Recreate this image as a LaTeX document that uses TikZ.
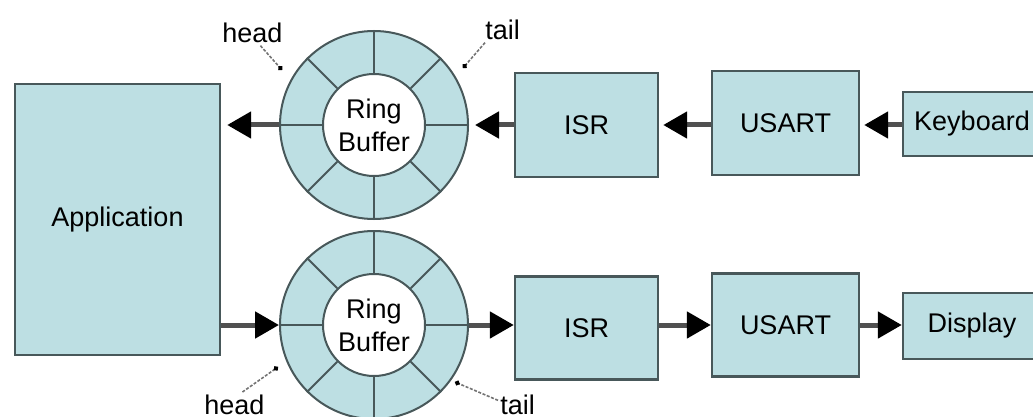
\documentclass[tikz,border=0pt]{standalone}
\usepackage{fontspec}
\setmainfont{Liberation Sans}
\usetikzlibrary{arrows.meta}
\definecolor{boxfill}{RGB}{189,223,227}
\definecolor{boxedge}{RGB}{72,88,90}
\definecolor{shaft}{RGB}{80,80,80}
\begin{document}
\begin{tikzpicture}[x=0.5pt,y=-0.5pt,font=\fontsize{13.5}{16.5}\selectfont,
  blk/.style={draw=boxedge,fill=boxfill,line width=1.2pt,inner sep=0pt},
  ringout/.style={circle,draw=boxedge,fill=boxfill,line width=1pt,minimum size=94pt,inner sep=0pt},
  ringin/.style={circle,draw=boxedge,fill=white,line width=1pt,minimum size=51pt,inner sep=0pt,align=center},
  spoke/.style={draw=boxedge,line width=1pt},
  flow/.style={-{Triangle[length=12pt,width=13pt,color=black]},draw=shaft,line width=2.5pt},
  lead/.style={-{Circle[length=2.5pt,color=black]},draw=black!55,line width=0.8pt,dash pattern=on 1.5pt off 0.8pt},
  lbl/.style={inner sep=1pt,anchor=base west}]
  \useasboundingbox (0,0) rectangle (1033,417);
  \node[blk,minimum width=102.5pt,minimum height=135.5pt] (app) at (117.5,219.5) {Application};
  \node[ringout] (rbtop) at (374,125) {};
  \node[ringin] (rbtopin) at (rbtop) {Ring\\Buffer};
  \foreach \a in {0,45,...,315}
    \draw[spoke] (rbtopin.\a) -- (rbtop.\a);
  \node[ringout] (rbbot) at (374,325) {};
  \node[ringin] (rbbotin) at (rbbot) {Ring\\Buffer};
  \foreach \a in {0,45,...,315}
    \draw[spoke] (rbbotin.\a) -- (rbbot.\a);
  \node[blk,minimum width=71.5pt,minimum height=52pt] (isrtop) at (586.5,125) {ISR};
  \node[blk,minimum width=73.5pt,minimum height=52pt] (usarttop) at (785.5,123) {USART};
  \node[blk,minimum width=69pt,minimum height=32pt] (kbd) at (972,124) {Keyboard};
  \node[blk,minimum width=71.5pt,minimum height=51.5pt] (isrbot) at (586.5,328) {ISR};
  \node[blk,minimum width=73.5pt,minimum height=51.5pt] (usartbot) at (785.5,325) {USART};
  \node[blk,minimum width=69pt,minimum height=33pt] (disp) at (972,326) {Display};
  \draw[flow,shorten >=3pt] (rbtop.west) -- (app.east |- rbtop.west);
  \draw[flow,shorten >=3pt] (isrtop.west |- rbtop.east) -- (rbtop.east);
  \draw[flow,shorten >=2pt] (usarttop.west |- rbtop.east) -- (isrtop.east |- rbtop.east);
  \draw[flow,shorten >=2pt] (kbd.west |- rbtop.east) -- (usarttop.east |- rbtop.east);
  \draw[flow] (app.east |- rbbot.west) -- (rbbot.west);
  \draw[flow] (rbbot.east) -- (isrbot.west |- rbbot.east);
  \draw[flow] (isrbot.east |- rbbot.east) -- (usartbot.west |- rbbot.east);
  \draw[flow] (usartbot.east |- rbbot.east) -- (disp.west |- rbbot.east);
  \node[lbl] (headtop) at (220,43) {head};
  \node[lbl] (tailtop) at (483,40) {tail};
  \node[lbl] (headbot) at (202,414) {head};
  \node[lbl] (tailbot) at (498,414) {tail};
  \coordinate (headtopdot) at (282,70);
  \coordinate (tailtopdot) at (463,68);
  \coordinate (headbotdot) at (278,367);
  \coordinate (tailbotdot) at (455,382);
  \draw[lead] ([xshift=4pt]headtop.south) -- (headtopdot);
  \draw[lead] ([xshift=1pt]tailtop.south west) -- (tailtopdot);
  \draw[lead] ([xshift=4pt]headbot.north) -- (headbotdot);
  \draw[lead] ([yshift=2pt]tailbot.west) -- (tailbotdot);
\end{tikzpicture}
\end{document}
